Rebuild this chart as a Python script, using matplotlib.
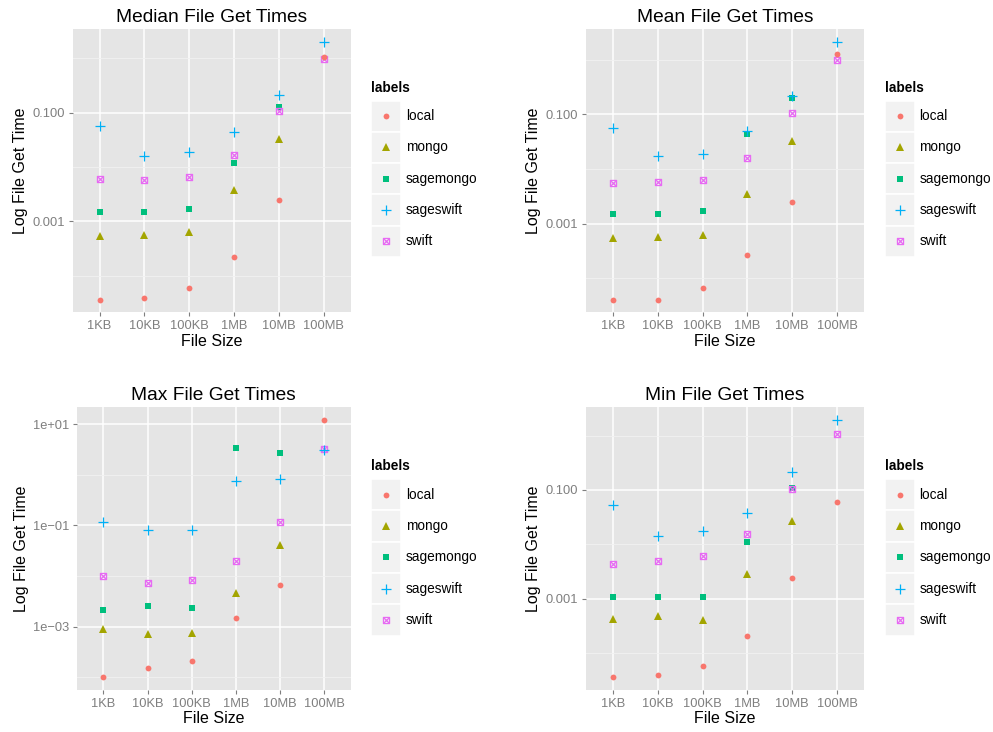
import numpy as np
import matplotlib
matplotlib.use("Agg")
import matplotlib.pyplot as plt
from matplotlib.path import Path
from matplotlib.patches import Rectangle
from matplotlib.ticker import FixedLocator, FixedFormatter, NullFormatter

plt.rcParams['font.family'] = ['Liberation Sans', 'DejaVu Sans']

nan = float("nan")

sizes = ["1KB", "10KB", "100KB", "1MB", "10MB", "100MB"]
labels = ["local", "mongo", "sagemongo", "sageswift", "swift"]

# get times in seconds, one list per backend
median_times = {
    "local":     [3.6e-5, 3.9e-5, 6.0e-5, 2.2e-4, 2.5e-3, 1.07],
    "mongo":     [5.3e-4, 5.5e-4, 6.3e-4, 3.7e-3, 0.032, nan],
    "sagemongo": [1.5e-3, 1.5e-3, 1.7e-3, 0.012, 0.125, nan],
    "sageswift": [0.057, 0.016, 0.0185, 0.043, 0.21, 2.0],
    "swift":     [5.9e-3, 5.7e-3, 6.6e-3, 0.0166, 0.107, 0.98],
}
mean_times = {
    "local":     [4.1e-5, 4.1e-5, 6.6e-5, 2.7e-4, 2.5e-3, 1.26],
    "mongo":     [5.4e-4, 5.6e-4, 6.2e-4, 3.5e-3, 0.032, nan],
    "sagemongo": [1.5e-3, 1.5e-3, 1.7e-3, 0.044, 0.20, nan],
    "sageswift": [0.056, 0.017, 0.019, 0.050, 0.22, 2.1],
    "swift":     [5.6e-3, 5.7e-3, 6.4e-3, 0.016, 0.104, 1.0],
}
max_times = {
    "local":     [1.0e-4, 1.55e-4, 2.1e-4, 1.5e-3, 6.6e-3, 12.1],
    "mongo":     [8.9e-4, 7.1e-4, 7.6e-4, 4.7e-3, 0.041, nan],
    "sagemongo": [2.1e-3, 2.6e-3, 2.3e-3, 3.3, 2.63, nan],
    "sageswift": [0.117, 0.079, 0.081, 0.76, 0.81, 3.1],
    "swift":     [0.010, 7.1e-3, 8.3e-3, 0.0195, 0.115, 3.2],
}
min_times = {
    "local":     [3.6e-5, 4.0e-5, 5.8e-5, 2.1e-4, 2.4e-3, 0.059],
    "mongo":     [4.3e-4, 4.8e-4, 4.1e-4, 2.9e-3, 0.027, nan],
    "sagemongo": [1.07e-3, 1.07e-3, 1.07e-3, 0.011, 0.107, nan],
    "sageswift": [0.052, 0.014, 0.0175, 0.037, 0.21, 1.95],
    "swift":     [4.3e-3, 4.9e-3, 6.0e-3, 0.0156, 0.104, 1.05],
}

small_ticks = [0.001, 0.100]
small_ticklabels = ["0.001", "0.100"]
small_minor = [1e-4, 1e-2, 1.0]
big_ticks = [1e-3, 1e-1, 1e1]
big_ticklabels = ["1e\u221203", "1e\u221201", "1e+01"]
big_minor = [1e-4, 1e-2, 1.0]

colors = {"local": "#F8766D", "mongo": "#A3A500", "sagemongo": "#00BF7D",
          "sageswift": "#00B0F6", "swift": "#E76BF3"}

# open square with a cross inside (ggplot shape 7)
sq_x = Path([(-1, -1), (1, -1), (1, 1), (-1, 1), (-1, -1),
             (-1, -1), (1, 1), (-1, 1), (1, -1)],
            [Path.MOVETO, Path.LINETO, Path.LINETO, Path.LINETO, Path.CLOSEPOLY,
             Path.MOVETO, Path.LINETO, Path.MOVETO, Path.LINETO])

styles = {
    "local":     dict(marker="o", ms=4.2, mew=0),
    "mongo":     dict(marker="^", ms=5.6, mew=0),
    "sagemongo": dict(marker="s", ms=4.1, mew=0),
    "sageswift": dict(marker="+", ms=6.6, mew=0.9),
    "swift":     dict(marker=sq_x, ms=4.4, mew=0.9, mfc="none"),
}
draw_order = ["mongo", "sagemongo", "swift", "sageswift", "local"]

W, H = 993, 732
fig = plt.figure(figsize=(W / 100, H / 100), dpi=100)
fig.patch.set_facecolor("white")


def px_rect(left, top, right, bottom):
    return [left / W, 1 - bottom / H, (right - left) / W, (bottom - top) / H]


panels = [
    ("Median File Get Times", median_times, small_ticks, small_ticklabels, small_minor,
     px_rect(72.7, 29, 350.7, 312.5), (371, 88)),
    ("Mean File Get Times", mean_times, small_ticks, small_ticklabels, small_minor,
     px_rect(586, 29, 864, 312.5), (884.5, 88)),
    ("Max File Get Times", max_times, big_ticks, big_ticklabels, big_minor,
     px_rect(77, 407, 350.7, 690), (371, 466.5)),
    ("Min File Get Times", min_times, small_ticks, small_ticklabels, small_minor,
     px_rect(586, 407, 864, 690), (884.5, 466.5)),
]

x = np.arange(1, len(sizes) + 1)

for title, data, ticks, ticklabels, minor, rect, _ in panels:
    ax = fig.add_axes(rect)
    ax.set_facecolor("#E5E5E5")
    for s in ax.spines.values():
        s.set_visible(False)
    for name in draw_order:
        st = dict(styles[name])
        mfc = st.pop("mfc", colors[name])
        ax.plot(x, data[name], linestyle="none", color=colors[name],
                mfc=mfc, mec=colors[name], zorder=3, **st)
    ax.set_yscale("log")
    ax.margins(y=0.05)
    ax.set_xlim(0.4, len(sizes) + 0.6)
    ax.set_xticks(x)
    ax.set_xticklabels(sizes)
    ax.yaxis.set_major_locator(FixedLocator(ticks))
    ax.yaxis.set_major_formatter(FixedFormatter(ticklabels))
    ax.yaxis.set_minor_locator(FixedLocator(minor))
    ax.yaxis.set_minor_formatter(NullFormatter())
    ax.grid(True, which="major", color="white", linewidth=1.1, zorder=1)
    ax.grid(True, which="minor", axis="y", color="#F2F2F2", linewidth=0.6, zorder=1)
    ax.set_axisbelow(True)
    ax.tick_params(which="major", length=3.2, width=0.8, color="#7F7F7F",
                   labelcolor="#7F7F7F", labelsize=9.3, pad=2.5)
    ax.tick_params(which="minor", length=0)
    ax.set_title(title, fontsize=13.8, pad=5)
    ax.set_xlabel("File Size", fontsize=11.5, labelpad=1)
    ax.set_ylabel("Log File Get Time", fontsize=11.5, labelpad=3)

# legends, drawn on a pixel-space overlay
ov = fig.add_axes([0, 0, 1, 1], zorder=10)
ov.set_xlim(0, W)
ov.set_ylim(H, 0)
ov.axis("off")
ov.patch.set_alpha(0)

box = 31.3
for *_, (lx, ty) in panels:
    ov.text(lx, ty, "labels", fontsize=9.8, fontweight="bold", va="center", ha="left")
    top = ty + 12.5
    for i, name in enumerate(labels):
        y0 = top + i * box
        ov.add_patch(Rectangle((lx, y0), 30, box, facecolor="#F2F2F2",
                               edgecolor="white", linewidth=1.2))
        st = dict(styles[name])
        mfc = st.pop("mfc", colors[name])
        ov.plot([lx + 15], [y0 + box / 2], linestyle="none", color=colors[name],
                mfc=mfc, mec=colors[name], **st)
        ov.text(lx + 35, y0 + box / 2, name, fontsize=9.8, va="center", ha="left")

fig.savefig("out.png", dpi=100)
